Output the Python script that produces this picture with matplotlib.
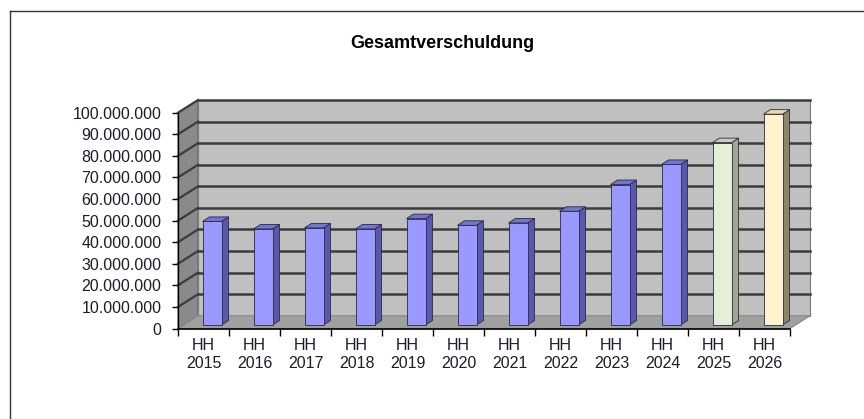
import matplotlib
matplotlib.use("Agg")
import matplotlib.pyplot as plt
from matplotlib.patches import Polygon, Rectangle
from matplotlib.lines import Line2D
from matplotlib.ticker import FuncFormatter, FixedLocator

plt.rcParams['font.family'] = ['Liberation Sans', 'DejaVu Sans']

title = "Gesamtverschuldung"
categories = ["HH\n2015", "HH\n2016", "HH\n2017", "HH\n2018", "HH\n2019", "HH\n2020",
              "HH\n2021", "HH\n2022", "HH\n2023", "HH\n2024", "HH\n2025", "HH\n2026"]
values = [48.0e6, 44.5e6, 45.0e6, 44.5e6, 49.3e6, 46.2e6,
          47.3e6, 52.7e6, 65.1e6, 74.4e6, 84.5e6, 97.7e6]
front_colors = ["#9999FF"] * 10 + ["#E3EFD9", "#FFF2CC"]
side_colors = ["#5858AC"] * 10 + ["#9FA894", "#8E8468"]
top_colors = ["#7474D4"] * 10 + ["#C4CFBA", "#E6DAB4"]
y_ticks = [i * 10e6 for i in range(11)]

W, H = 864, 419
fig = plt.figure(figsize=(W / 100, H / 100), dpi=100)
fig.patch.set_facecolor("white")

# front plane of the 3D box
x0_px, y0_px, w_px, h_px = 178, 328.5, 612, 215.8
ax = fig.add_axes([x0_px / W, (H - y0_px) / H, w_px / W, h_px / H])
ax.set_xlim(0, 12)
ax.set_ylim(0, 100e6)
ax.set_facecolor("none")
for s in ax.spines.values():
    s.set_visible(False)

px_x = 12 / w_px          # data units per pixel (x)
px_y = 100e6 / h_px       # data units per pixel (y)
DX, DY = 20 * px_x, 12.7 * px_y
YMAX = 100e6

# side wall (left)
ax.add_patch(Polygon([(0, 0), (DX, DY), (DX, YMAX + DY), (0, YMAX)], closed=True,
                     facecolor="#8A8A8A", edgecolor="#6a6a6a", lw=0.8, clip_on=False, zorder=1))
# back wall
ax.add_patch(Rectangle((DX, DY), 12, YMAX, facecolor="#C0C0C0", edgecolor="#7a7a7a",
                       lw=0.8, clip_on=False, zorder=1))
# floor
ax.add_patch(Polygon([(0, 0), (12, 0), (12 + DX, DY), (DX, DY)], closed=True,
                     facecolor="#A0A0A0", edgecolor="#858585", lw=0.8, clip_on=False, zorder=2))

# gridlines
for v in y_ticks[1:]:
    ax.add_line(Line2D([DX, 12 + DX], [v + DY, v + DY], color="#3c3c3c", lw=1.8,
                       clip_on=False, zorder=2))
    ax.add_line(Line2D([0, DX], [v, v + DY], color="#3c3c3c", lw=1.6,
                       clip_on=False, zorder=2))

# bars
bw = 19 * px_x
bx = 0.167
by = 3.5 * px_y
sdx, sdy = 7 * px_x, 4.5 * px_y
for i, v in enumerate(values):
    xl = i + 0.5 - bw / 2 + bx
    yb = by
    xr = xl + bw
    ax.add_patch(Polygon([(xr, yb), (xr + sdx, yb + sdy), (xr + sdx, yb + v + sdy), (xr, yb + v)],
                         closed=True, facecolor=side_colors[i], edgecolor="#2a2a40", lw=0.6,
                         clip_on=False, zorder=4))
    ax.add_patch(Polygon([(xl, yb + v), (xr, yb + v), (xr + sdx, yb + v + sdy), (xl + sdx, yb + v + sdy)],
                         closed=True, facecolor=top_colors[i], edgecolor="#2a2a40", lw=0.6,
                         clip_on=False, zorder=4))
    ax.add_patch(Rectangle((xl, yb), bw, v, facecolor=front_colors[i], edgecolor="#2a2a40",
                           lw=0.6, clip_on=False, zorder=5))

# axis lines
ax.add_line(Line2D([0, 0], [0, YMAX], color="black", lw=1.0, clip_on=False, zorder=6))
ax.add_line(Line2D([0, 12], [0, 0], color="black", lw=1.2, clip_on=False, zorder=6))

# ticks
fmt = FuncFormatter(lambda v, p: f"{int(round(v)):,}".replace(",", "."))
ax.yaxis.set_major_locator(FixedLocator(y_ticks))
ax.yaxis.set_major_formatter(fmt)
ax.tick_params(axis="y", which="major", length=4, width=1, color="black", pad=8,
               labelsize=11.5, labelcolor="#1c1c2c")
ax.set_xticks([i + 0.5 for i in range(12)])
ax.set_xticklabels(categories)
ax.set_xticks(range(13), minor=True)
ax.tick_params(axis="x", which="major", length=0, pad=7, labelsize=11.5, labelcolor="#1c1c2c")
ax.tick_params(axis="x", which="minor", length=5, width=1, color="black")

# title
fig.text(442 / W, 1 - 43 / H, title, ha="center", va="center", fontsize=13, fontweight="bold",
         color="black")

# outer frame
fig.add_artist(Line2D([9.5 / W, 9.5 / W], [0, 1 - 11 / H], transform=fig.transFigure,
                      color="#333333", lw=1.0))
fig.add_artist(Line2D([9.5 / W, 1], [1 - 11 / H, 1 - 11 / H], transform=fig.transFigure,
                      color="#333333", lw=1.0))

fig.savefig("out.png", dpi=100, facecolor="white")
